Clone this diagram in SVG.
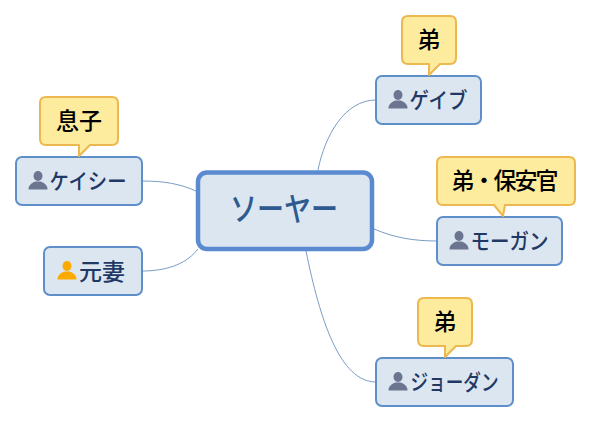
<svg xmlns="http://www.w3.org/2000/svg" width="592" height="423" viewBox="0 0 592 423">
<defs>
<g id="person"><ellipse cx="0" cy="-4" rx="4.500" ry="5"/><path d="M-9.500 9.500C-9.500 5-6.500 3-2.500 1.500L2.500 1.500C6.500 3 9.500 5 9.500 9.500Z"/></g>
</defs>
<style>
text{font-family:"Noto Sans CJK JP","Noto Sans CJK SC",sans-serif;text-anchor:middle;font-weight:500}
.n{fill:#dce6f1;stroke:#5f8fc9;stroke-width:2}
.c{fill:#fdeb9e;stroke:#ecb84f;stroke-width:2;stroke-linejoin:round}
.t{font-size:22px;fill:#1f3864}
.k{font-size:23px;fill:#000}
.p{fill:#6b7590}
.o{fill:#fbab00}
#connectors path{fill:none;stroke:#7a9cc6;stroke-width:1}
</style>
<rect width="592" height="423" fill="#fff"/>
<g id="connectors">
<path d="M318 170C325 135 345 100 376 100"/>
<path d="M374 229C395 238 415 241 437 241"/>
<path d="M306 251C320 320 340 382 376 382"/>
<path d="M142 181C165 181 180 184 196 191"/>
<path d="M142 271C170 271 188 262 198 249"/>
</g>
<g id="center"><rect x="198" y="172.500" width="174" height="76.500" rx="9" fill="#dce6f1" stroke="#5a8ad0" stroke-width="4.500"/><text x="284" y="221" fill="#2f5a8f" style="font-size:33px" textLength="108" lengthAdjust="spacingAndGlyphs">ソーヤー</text></g>
<g id="kc"><rect class="n" x="16" y="157" width="126" height="48" rx="6"/><use href="#person" x="38" y="180" class="p"/><text class="t" x="88" y="189" textLength="77" lengthAdjust="spacingAndGlyphs">ケイシー</text></g>
<g id="kc-note"><path class="c" d="M46 97H112Q118 97 118 103V139Q118 145 112 145H90L79 156V145H46Q40 145 40 139V103Q40 97 46 97Z"/><text class="k" x="79" y="129">息子</text></g>
<g id="wife"><rect class="n" x="44" y="247" width="98" height="48" rx="6"/><use href="#person" x="67" y="270" class="o"/><text class="k" x="102" y="280" style="fill:#1f3864">元妻</text></g>
<g id="gabe"><rect class="n" x="376" y="76" width="105" height="48" rx="6"/><use href="#person" x="398" y="99" class="p"/><text class="t" x="438.500" y="108" textLength="58" lengthAdjust="spacingAndGlyphs">ゲイブ</text></g>
<g id="gabe-note"><path class="c" d="M408 16H450Q456 16 456 22V58Q456 64 450 64H440L429 75V64H408Q402 64 402 58V22Q402 16 408 16Z"/><text class="k" x="429" y="48">弟</text></g>
<g id="morgan"><rect class="n" x="437" y="217" width="125" height="48" rx="6"/><use href="#person" x="459" y="240" class="p"/><text class="t" x="509.500" y="249" textLength="78" lengthAdjust="spacingAndGlyphs">モーガン</text></g>
<g id="morgan-note"><path class="c" d="M443 157H569Q575 157 575 163V199Q575 205 569 205H505L503 216L494 205H443Q437 205 437 199V163Q437 157 443 157Z"/><text class="k" x="505" y="189" textLength="107">弟・保安官</text></g>
<g id="jordan"><rect class="n" x="376" y="358" width="137" height="48" rx="6"/><use href="#person" x="398" y="381" class="p"/><text class="t" x="454.500" y="390" textLength="88" lengthAdjust="spacingAndGlyphs">ジョーダン</text></g>
<g id="jordan-note"><path class="c" d="M424 298H466Q472 298 472 304V340Q472 346 466 346H456L445 357V346H424Q418 346 418 340V304Q418 298 424 298Z"/><text class="k" x="445" y="330">弟</text></g>
</svg>
